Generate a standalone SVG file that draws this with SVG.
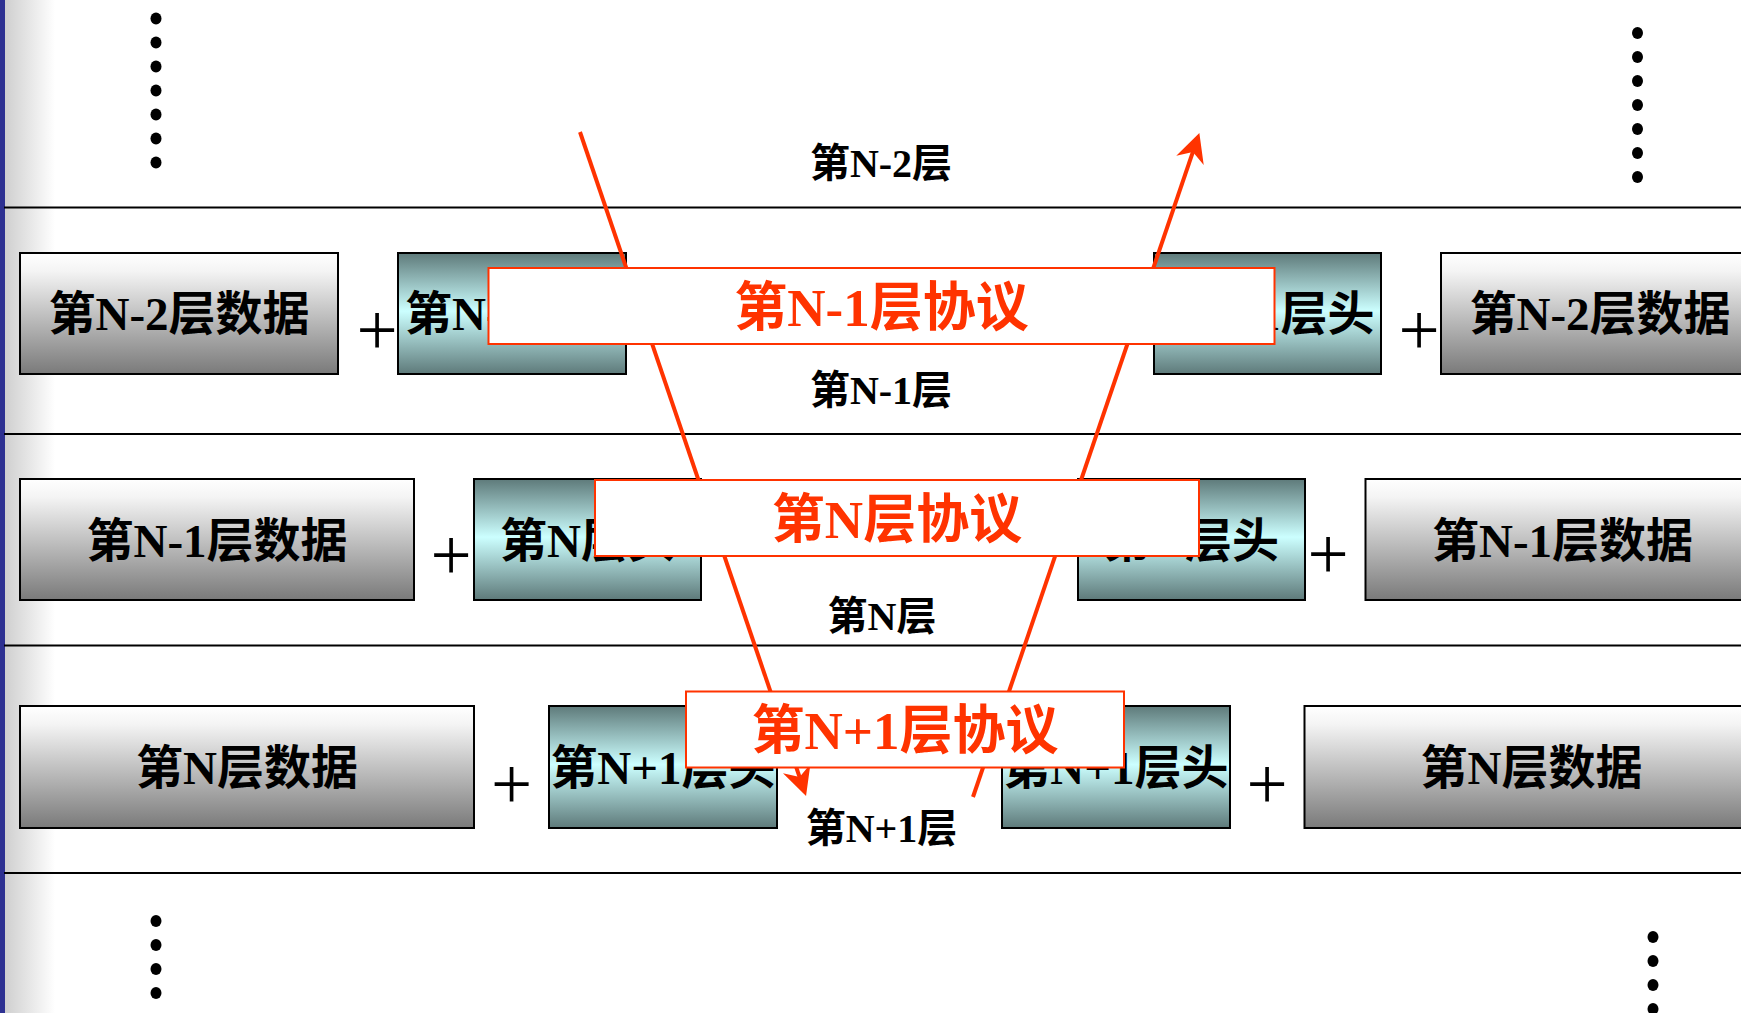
<svg xmlns="http://www.w3.org/2000/svg" width="1741" height="1013" viewBox="0 0 1741 1013">
  <defs>
    <linearGradient id="gGray" x1="0" y1="0" x2="0" y2="1">
      <stop offset="0" stop-color="#FFFFFF"/>
      <stop offset="0.15" stop-color="#F4F4F4"/>
      <stop offset="1" stop-color="#7A7A7A"/>
    </linearGradient>
    <linearGradient id="gTeal" x1="0" y1="0" x2="0" y2="1">
      <stop offset="0" stop-color="#5E7A7A"/>
      <stop offset="0.48" stop-color="#CCFFFF"/>
      <stop offset="1" stop-color="#5E7A7A"/>
    </linearGradient>
    <linearGradient id="gEdge" x1="0" y1="0" x2="1" y2="0">
      <stop offset="0" stop-color="#CFCFCF"/>
      <stop offset="1" stop-color="#FFFFFF"/>
    </linearGradient>
    <marker id="arr" viewBox="-30 -16 32 32" markerWidth="32" markerHeight="32" refX="-20" refY="0" orient="auto" markerUnits="userSpaceOnUse">
      <path d="M0,0 L-29,-14.5 L-20,0 L-29,14.5 Z" fill="#FF3300"/>
    </marker>
    <style>
      .gray { fill: url(#gGray); stroke: #000; stroke-width: 2; }
      .teal { fill: url(#gTeal); stroke: #000; stroke-width: 2; }
      .proto { fill: #FFFFFF; stroke: #FF3300; stroke-width: 2; }
      .t { font-family: "Liberation Serif", "Noto Sans CJK SC", serif; font-weight: bold; text-anchor: middle; fill: #000; }
      .data { font-size: 47px; }
      .ptxt { font-size: 53px; fill: #FF3300; }
      .lbl { font-size: 40px; }
      .plus { font-family: "Liberation Serif", serif; font-size: 73px; text-anchor: middle; fill: #000; }
      .hline { stroke: #000; stroke-width: 2; }
      .red { stroke: #FF3300; stroke-width: 4; fill: none; }
      .dot { fill: #000; }
    </style>
  </defs>

  <rect x="0" y="0" width="1741" height="1013" fill="#FFFFFF"/>
  <rect x="5" y="0" width="50" height="1013" fill="url(#gEdge)"/>
  <rect x="0" y="0" width="5" height="1013" fill="#2E3192"/>

  <g id="layer-lines">
    <line class="hline" x1="4" y1="207.5" x2="1741" y2="207.5"/>
    <line class="hline" x1="4" y1="434" x2="1741" y2="434"/>
    <line class="hline" x1="4" y1="645.5" x2="1741" y2="645.5"/>
    <line class="hline" x1="4" y1="873" x2="1741" y2="873"/>
  </g>

  <g id="dots-top-left">
    <ellipse class="dot" cx="156" cy="18.5" rx="5.5" ry="6"/>
    <ellipse class="dot" cx="156" cy="42.5" rx="5.5" ry="6"/>
    <ellipse class="dot" cx="156" cy="66.5" rx="5.5" ry="6"/>
    <ellipse class="dot" cx="156" cy="90.5" rx="5.5" ry="6"/>
    <ellipse class="dot" cx="156" cy="114.5" rx="5.5" ry="6"/>
    <ellipse class="dot" cx="156" cy="138.5" rx="5.5" ry="6"/>
    <ellipse class="dot" cx="156" cy="162.5" rx="5.5" ry="6"/>
  </g>
  <g id="dots-top-right">
    <ellipse class="dot" cx="1637.5" cy="33" rx="5.5" ry="6"/>
    <ellipse class="dot" cx="1637.5" cy="57" rx="5.5" ry="6"/>
    <ellipse class="dot" cx="1637.5" cy="81" rx="5.5" ry="6"/>
    <ellipse class="dot" cx="1637.5" cy="105" rx="5.5" ry="6"/>
    <ellipse class="dot" cx="1637.5" cy="129" rx="5.5" ry="6"/>
    <ellipse class="dot" cx="1637.5" cy="153" rx="5.5" ry="6"/>
    <ellipse class="dot" cx="1637.5" cy="177" rx="5.5" ry="6"/>
  </g>
  <g id="dots-bottom-left">
    <ellipse class="dot" cx="156" cy="921" rx="5.5" ry="6"/>
    <ellipse class="dot" cx="156" cy="945" rx="5.5" ry="6"/>
    <ellipse class="dot" cx="156" cy="969" rx="5.5" ry="6"/>
    <ellipse class="dot" cx="156" cy="993" rx="5.5" ry="6"/>
  </g>
  <g id="dots-bottom-right">
    <ellipse class="dot" cx="1653" cy="937" rx="5.5" ry="6"/>
    <ellipse class="dot" cx="1653" cy="961" rx="5.5" ry="6"/>
    <ellipse class="dot" cx="1653" cy="985" rx="5.5" ry="6"/>
    <ellipse class="dot" cx="1653" cy="1009" rx="5.5" ry="6"/>
  </g>

  <!-- Row 1 -->
  <g id="data-n2-left">
    <rect class="gray" x="20" y="253" width="318" height="121"/>
    <text class="t data" x="179" y="330">第N-2层数据</text>
  </g>
  <g id="plus-1a"><text class="plus" x="377" y="355">+</text></g>
  <g id="hdr-n1-left">
    <rect class="teal" x="398" y="253" width="228" height="121"/>
    <text class="t data" x="512" y="330">第N-1层头</text>
  </g>
  <g id="hdr-n1-right">
    <rect class="teal" x="1154" y="253" width="227" height="121"/>
    <text class="t data" x="1267.5" y="330">第N-1层头</text>
  </g>
  <g id="plus-1b"><text class="plus" x="1419" y="355">+</text></g>
  <g id="data-n2-right">
    <rect class="gray" x="1441" y="253" width="318" height="121"/>
    <text class="t data" x="1600" y="330">第N-2层数据</text>
  </g>

  <!-- Row 2 -->
  <g id="data-n1-left">
    <rect class="gray" x="20" y="479" width="394" height="121"/>
    <text class="t data" x="217" y="557">第N-1层数据</text>
  </g>
  <g id="plus-2a"><text class="plus" x="451" y="580">+</text></g>
  <g id="hdr-n-left">
    <rect class="teal" x="474" y="479" width="227" height="121"/>
    <text class="t data" x="587.5" y="557">第N层头</text>
  </g>
  <g id="hdr-n-right">
    <rect class="teal" x="1078" y="479" width="227" height="121"/>
    <text class="t data" x="1191.5" y="557">第N层头</text>
  </g>
  <g id="plus-2b"><text class="plus" x="1328" y="579">+</text></g>
  <g id="data-n1-right">
    <rect class="gray" x="1365.5" y="479" width="394" height="121"/>
    <text class="t data" x="1562.5" y="557">第N-1层数据</text>
  </g>

  <!-- Row 3 -->
  <g id="data-n-left">
    <rect class="gray" x="20" y="706" width="454" height="122"/>
    <text class="t data" x="247" y="784">第N层数据</text>
  </g>
  <g id="plus-3a"><text class="plus" x="511.5" y="809">+</text></g>
  <g id="hdr-np1-left">
    <rect class="teal" x="549" y="706" width="228" height="122"/>
    <text class="t data" x="663" y="784">第N+1层头</text>
  </g>
  <g id="hdr-np1-right">
    <rect class="teal" x="1002" y="706" width="228" height="122"/>
    <text class="t data" x="1116" y="784">第N+1层头</text>
  </g>
  <g id="plus-3b"><text class="plus" x="1267" y="809">+</text></g>
  <g id="data-n-right">
    <rect class="gray" x="1304.5" y="706" width="454" height="122"/>
    <text class="t data" x="1531.5" y="784">第N层数据</text>
  </g>

  <!-- Layer labels -->
  <g id="label-n2"><text class="t lbl" x="881" y="177">第N-2层</text></g>
  <g id="label-n1"><text class="t lbl" x="881" y="404">第N-1层</text></g>
  <g id="label-n"><text class="t lbl" x="882" y="630">第N层</text></g>
  <g id="label-np1"><text class="t lbl" x="881.5" y="842">第N+1层</text></g>

  <!-- Connectors -->
  <g id="connectors">
    <line class="red" x1="580" y1="132" x2="799.6" y2="777.1" marker-end="url(#arr)"/>
    <line class="red" x1="973" y1="797" x2="1192.9" y2="151.9" marker-end="url(#arr)"/>
  </g>

  <!-- Protocol boxes -->
  <g id="proto-n1">
    <rect class="proto" x="488.5" y="268" width="786" height="76"/>
    <text class="t ptxt" x="881.5" y="326">第N-1层协议</text>
  </g>
  <g id="proto-n">
    <rect class="proto" x="595" y="480" width="604" height="76"/>
    <text class="t ptxt" x="897" y="538">第N层协议</text>
  </g>
  <g id="proto-np1">
    <rect class="proto" x="686" y="691.5" width="438" height="76"/>
    <text class="t ptxt" x="905" y="749">第N+1层协议</text>
  </g>
</svg>
